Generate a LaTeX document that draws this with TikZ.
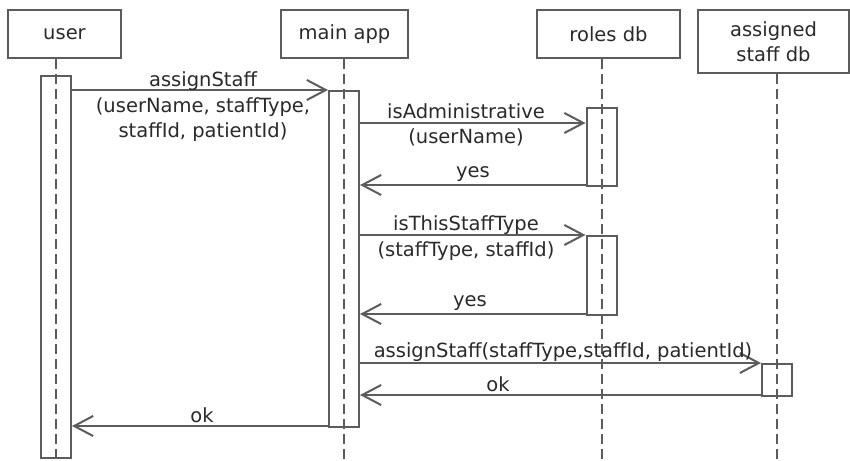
\documentclass[tikz,border=0pt]{standalone}
\usepackage{fontspec}
\setmainfont{DejaVu Sans}
\usetikzlibrary{arrows.meta}
\definecolor{linegray}{HTML}{5C5C5C}
\definecolor{textgray}{HTML}{2A2A2A}
\tikzset{
  actor/.style={draw=linegray, line width=2pt, rectangle, align=center, inner sep=0pt},
  actbar/.style={draw=linegray, line width=2pt, rectangle, minimum width=30pt, anchor=north, inner sep=0pt},
  life/.style={draw=linegray, line width=2pt, dash pattern=on 10pt off 5pt},
  msg/.style={draw=linegray, line width=2pt, -{Straight Barb[length=19pt,width=20pt]}},
  lbl/.style={text=textgray, align=center, inner sep=0pt, font=\fontsize{19.5}{25.5}\selectfont}
}
\begin{document}
\begin{tikzpicture}[x=1pt, y=-1pt]
\useasboundingbox (0,0) rectangle (850,460);
\fill[white] (0,0) rectangle (850,460);

% participants
\node[actor, minimum width=113pt, minimum height=48pt, lbl] (user) at (64.5,34) {user};
\node[actor, minimum width=127pt, minimum height=48pt, lbl] (app) at (344.5,34) {main app};
\node[actor, minimum width=143pt, minimum height=48pt, lbl] (roles) at (608.5,34) {roles db};
\node[actor, minimum width=151pt, minimum height=63pt, lbl] (staff) at (773.5,41.5) {assigned\\staff db};

% activation bars
\node[actbar, minimum height=382pt] (ubar) at (56,75) {};
\node[actbar, minimum height=336pt] (mbar) at (344,90) {};
\node[actbar, minimum height=78pt] (rbarA) at (601.5,107) {};
\node[actbar, minimum height=79pt] (rbarB) at (601.5,235) {};
\node[actbar, minimum height=32pt] (abar) at (777,363) {};

% lifelines
\coordinate (bottom) at (0,460);
\draw[life] (ubar.north |- user.south) -- (ubar.north |- bottom);
\draw[life] (mbar.north |- app.south) -- (mbar.north |- bottom);
\draw[life] (rbarA.north |- roles.south) -- (rbarA.north |- bottom);
\draw[life] (abar.north |- staff.south) -- (abar.north |- bottom);

% message levels
\coordinate (m1) at (0,90);
\coordinate (m2) at (0,123);
\coordinate (m3) at (0,185);
\coordinate (m4) at (0,235);
\coordinate (m5) at (0,314);
\coordinate (m6) at (0,363);
\coordinate (m7) at (0,395);
\coordinate (m8) at (0,426);

% messages
\draw[msg] (ubar.east |- m1) -- (mbar.west |- m1);
\node[lbl] (t1) at (203,107) {assignStaff\\(userName, staffType,\\staffId, patientId)};

\draw[msg] (mbar.east |- m2) -- (rbarA.west |- m2);
\node[lbl] (t2) at (466,125) {isAdministrative\\(userName)};

\draw[msg] (rbarA.west |- m3) -- (mbar.east |- m3);
\node[lbl] (t3) at (473,174) {yes};

\draw[msg] (mbar.east |- m4) -- (rbarB.west |- m4);
\node[lbl] (t4) at (466,238) {isThisStaffType\\(staffType, staffId)};

\draw[msg] (rbarB.west |- m5) -- (mbar.east |- m5);
\node[lbl] (t5) at (470,303) {yes};

\draw[msg] (mbar.east |- m6) -- (abar.west |- m6);
\node[lbl] (t6) at (563,352) {assignStaff(staffType,staffId, patientId)};

\draw[msg] (abar.west |- m7) -- (mbar.east |- m7);
\node[lbl] (t7) at (498,384) {ok};

\draw[msg] (mbar.west |- m8) -- (ubar.east |- m8);
\node[lbl] (t8) at (202,415) {ok};
\end{tikzpicture}
\end{document}
